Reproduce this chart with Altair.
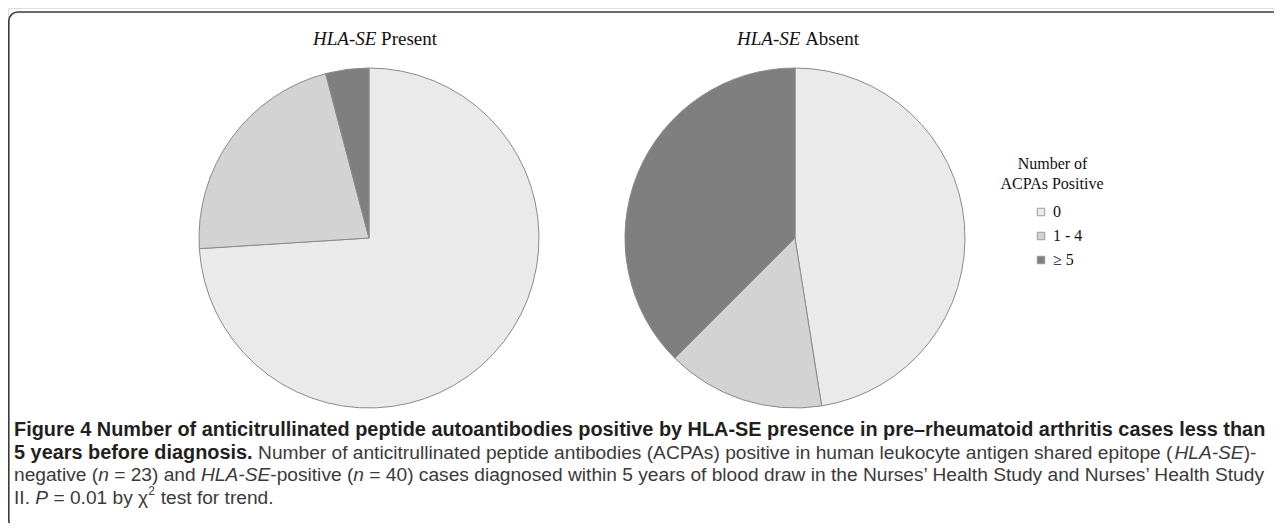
import altair as alt
import pandas as pd

# ---------------- data ----------------
groups = ["HLA-SE Present", "HLA-SE Absent"]
categories = ["0", "1 - 4", "≥ 5"]
present_pct = [74.0, 21.9, 4.1]
absent_pct = [47.5, 15.0, 37.5]
cat_colors = ["#eaeaea", "#d3d3d3", "#7f7f7f"]

legend_title = ["Number of", "ACPAs Positive"]

caption_lines = [
    [("Figure 4 Number of anticitrullinated peptide autoantibodies positive by HLA-SE presence in pre–rheumatoid arthritis cases less than", "b")],
    [("5 years before diagnosis.", "b"),
     (" Number of anticitrullinated peptide antibodies (ACPAs) positive in human leukocyte antigen shared epitope (", "r"),
     ("HLA-SE", "i"), (")-", "r")],
    [("negative (", "r"), ("n", "i"), (" = 23) and ", "r"), ("HLA-SE", "i"), ("-positive (", "r"), ("n", "i"),
     (" = 40) cases diagnosed within 5 years of blood draw in the Nurses’ Health Study and Nurses’ Health Study", "r")],
    [("II. ", "r"), ("P", "i"), (" = 0.01 by χ", "r"), ("2", "sup"), (" test for trend.", "r")],
]

# ---------------- text metrics (Arial == Liberation Sans) ----------------
_lower_r = dict(zip("abcdefghijklmnopqrstuvwxyz",
                    [556,556,500,556,556,278,556,556,222,222,500,222,833,556,556,556,556,333,500,278,556,500,722,500,500,500]))
_upper_r = dict(zip("ABCDEFGHIJKLMNOPQRSTUVWXYZ",
                    [667,667,722,722,667,611,778,722,278,500,667,556,833,722,778,667,778,722,667,611,722,667,944,667,667,611]))
_lower_b = dict(zip("abcdefghijklmnopqrstuvwxyz",
                    [556,611,556,611,556,333,611,611,278,278,556,278,889,611,611,611,611,389,556,333,611,556,778,556,556,500]))
_upper_b = dict(zip("ABCDEFGHIJKLMNOPQRSTUVWXYZ",
                    [722,722,722,722,667,611,778,722,278,556,722,611,833,722,778,667,778,722,667,611,722,667,944,667,667,611]))
_punct = {" ": 278, "(": 333, ")": 333, "-": 333, ".": 278, ",": 278, "=": 584, "’": 222, "'": 191, "–": 556, "χ": 500}
_digits = {d: 556 for d in "0123456789"}
W_R = {**_lower_r, **_upper_r, **_punct, **_digits}
W_B = {**_lower_b, **_upper_b, **_punct, **_digits}


def em(s, bold=False):
    t = W_B if bold else W_R
    return sum(t.get(c, 556) for c in s) / 1000.0


x0 = 6.0
line_w = 1252.0
fs_b = line_w / em(caption_lines[0][0][0], True)
fs_r = line_w / sum(em(s, st == "b") for s, st in caption_lines[2])
fs_r = min(fs_r, fs_b)
baselines = [428.0, 450.5, 473.0, 495.5]

rows = []
for li, segs in enumerate(caption_lines):
    x = x0
    for s, st in segs:
        bold = st == "b"
        size = fs_b if bold else (fs_r * 0.62 if st == "sup" else fs_r)
        lead = len(s) - len(s.lstrip(" "))
        xt = x + em(s[:lead], bold) * size
        y = baselines[li] - (0.42 * fs_r if st == "sup" else 0)
        rows.append(dict(x=xt + (0.5 if st == "sup" else 0), y=y, t=s.strip(" "), st=st))
        x += em(s, bold) * size + (1 if st == "sup" else 0)
cap = pd.DataFrame(rows)

# ---------------- pies ----------------
pie_df = pd.DataFrame({
    "group": [groups[0]] * 3 + [groups[1]] * 3,
    "cat": categories * 2,
    "pct": present_pct + absent_pct,
    "ord": [0, 1, 2] * 2,
})
centers = {groups[0]: (361, 230), groups[1]: (787, 230)}
R = 170

color = alt.Color("cat:N", scale=alt.Scale(domain=categories, range=cat_colors),
                  legend=alt.Legend(orient="none", legendX=1025, legendY=196, title=None,
                                    symbolType="square", symbolSize=56, symbolStrokeColor="#9a9a9a",
                                    symbolStrokeWidth=1, labelFont="Liberation Serif", labelFontSize=16,
                                    labelColor="#111", rowPadding=8, labelOffset=4, padding=0))

pies = []
for g in groups:
    cx, cy = centers[g]
    pies.append(
        alt.Chart(pie_df).transform_filter(alt.datum.group == g)
        .mark_arc(radius=R, stroke="#8a8a8a", strokeWidth=1)
        .encode(theta=alt.Theta("pct:Q", stack=True), color=color,
                order=alt.Order("ord:Q", sort="ascending"),
                x=alt.value(cx), y=alt.value(cy))
    )

# ---------------- pie titles (italic part + regular part) ----------------
tfs = 19
title_rows = []
for g, cx in zip(groups, [367, 790]):
    rest = g.split(" ", 1)[1]
    w_it = (722 + 556 + 611 + 333 + 500 + 611) / 1000 * tfs
    w_sp = 0.25 * tfs
    w_rest = {"Present": 2.944, "Absent": 2.833}[rest] * tfs
    start = cx - (w_it + w_sp + w_rest) / 2
    title_rows.append(dict(x=start + w_it, y=37, t="HLA-SE", st="i"))
    title_rows.append(dict(x=start + w_it + w_sp, y=37, t=rest, st="r"))
tdf = pd.DataFrame(title_rows)

t_it = alt.Chart(tdf).transform_filter(alt.datum.st == "i").mark_text(
    align="right", baseline="alphabetic", font="Liberation Serif", fontSize=tfs, fontStyle="italic", color="#111"
).encode(x=alt.X("x:Q", scale=None), y=alt.Y("y:Q", scale=None), text="t:N")
t_rg = alt.Chart(tdf).transform_filter(alt.datum.st == "r").mark_text(
    align="left", baseline="alphabetic", font="Liberation Serif", fontSize=tfs, color="#111"
).encode(x=alt.X("x:Q", scale=None), y=alt.Y("y:Q", scale=None), text="t:N")

# legend title
ltdf = pd.DataFrame({"x": [1044.5, 1044.0], "y": [160.5, 180.5], "t": legend_title})
lt = alt.Chart(ltdf).mark_text(align="center", baseline="alphabetic", font="Liberation Serif",
                               fontSize=16, color="#111").encode(
    x=alt.X("x:Q", scale=None), y=alt.Y("y:Q", scale=None), text="t:N")

# caption layers
def cap_layer(st, **kw):
    return alt.Chart(cap).transform_filter(alt.datum.st == st).mark_text(
        align="left", baseline="alphabetic", font="Liberation Sans", **kw
    ).encode(x=alt.X("x:Q", scale=None), y=alt.Y("y:Q", scale=None), text="t:N")

c_b = cap_layer("b", fontSize=fs_b, fontWeight="bold", color="#231f20")
c_r = cap_layer("r", fontSize=fs_r, color="#3a3a3a")
c_i = cap_layer("i", fontSize=fs_r, fontStyle="italic", color="#3a3a3a")
c_s = cap_layer("sup", fontSize=fs_r * 0.62, color="#3a3a3a")

# frame
frame = alt.Chart(pd.DataFrame({"a": [0]})).mark_rect(
    fill=None, stroke="#3a3a3a", strokeWidth=1.6, cornerRadius=9
).encode(x=alt.value(0.8), x2=alt.value(1290), y=alt.value(4), y2=alt.value(521))

chart = alt.layer(frame, *pies, t_it, t_rg, lt, c_b, c_r, c_i, c_s).properties(
    width=1266, height=515, padding=0, autosize=alt.AutoSizeParams(type="none")
).configure_view(stroke=None).configure(background="white")

chart.save("out.html", embed_options={"renderer": "svg", "actions": False})
